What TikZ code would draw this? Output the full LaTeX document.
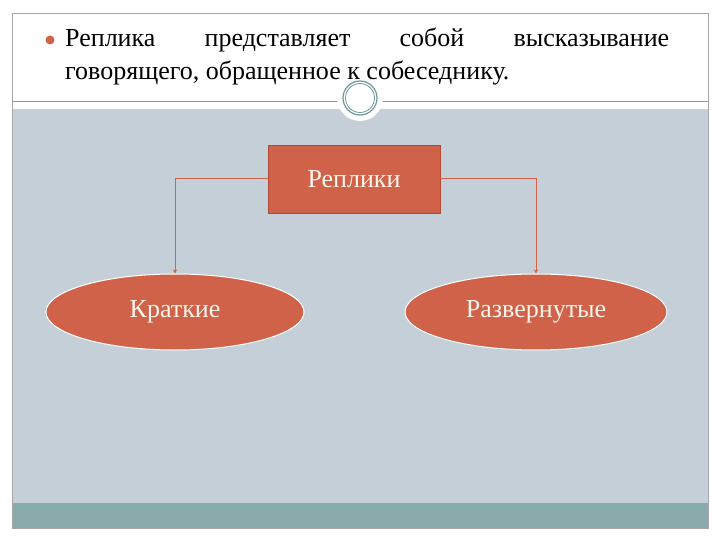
\documentclass[tikz,border=0pt]{standalone}
\usepackage{fontspec}
\setmainfont{Liberation Serif}
\usetikzlibrary{arrows.meta}
\definecolor{redb}{HTML}{D06249}
\definecolor{redd}{HTML}{B04A35}
\definecolor{bgg}{HTML}{C5CFD7}
\definecolor{teal2}{HTML}{8AABAB}
\definecolor{ring}{HTML}{6E9A9A}
\tikzset{conn/.style={draw=redb,line width=1pt,-{Stealth[length=4pt,width=4pt]}},
 shapebox/.style={fill=redb,draw=redd,line width=0.8pt,text=white!92!orange,font=\fontsize{26}{28}\selectfont},
 oval/.style={ellipse,fill=redb,draw=white,line width=1pt,text=white!92!orange,font=\fontsize{26}{28}\selectfont}}
\usetikzlibrary{shapes.geometric}
\begin{document}
\begin{tikzpicture}[x=1pt,y=-1pt]
\useasboundingbox (0,0) rectangle (720,540);
\fill[white] (0,0) rectangle (720,540);
\fill[bgg] (12,109) rectangle (708,503);
\fill[teal2] (12,503) rectangle (708,528);
\draw[gray!70,line width=0.8pt] (12,13) rectangle (708,528);
\draw[gray!80,line width=0.8pt] (12,101) -- (708,101);
\fill[white] (360,98) circle (23);
\draw[ring,line width=1.2pt] (360,98) circle (17);
\draw[ring,line width=0.8pt] (360,98) circle (14.5);
\fill[redb] (50,40) circle (4.5);
\node[anchor=base west,inner sep=0,text width=604pt,align=justify,font=\fontsize{26}{33}\selectfont] (txt) at (65,47)
 {Реплика представляет собой высказывание говорящего, обращенное к собеседнику.};
\node[shapebox,minimum width=172pt,minimum height=68pt] (top) at (354,179) {Реплики};
\node[oval,minimum width=258pt,minimum height=76pt] (l) at (175,312) {Краткие};
\node[oval,minimum width=262pt,minimum height=76pt] (r) at (536,312) {Развернутые};
\draw[conn] (top.west) -- (l.north |- top.west) -- (l.north);
\draw[conn] (top.east) -- (r.north |- top.east) -- (r.north);
\end{tikzpicture}
\end{document}
